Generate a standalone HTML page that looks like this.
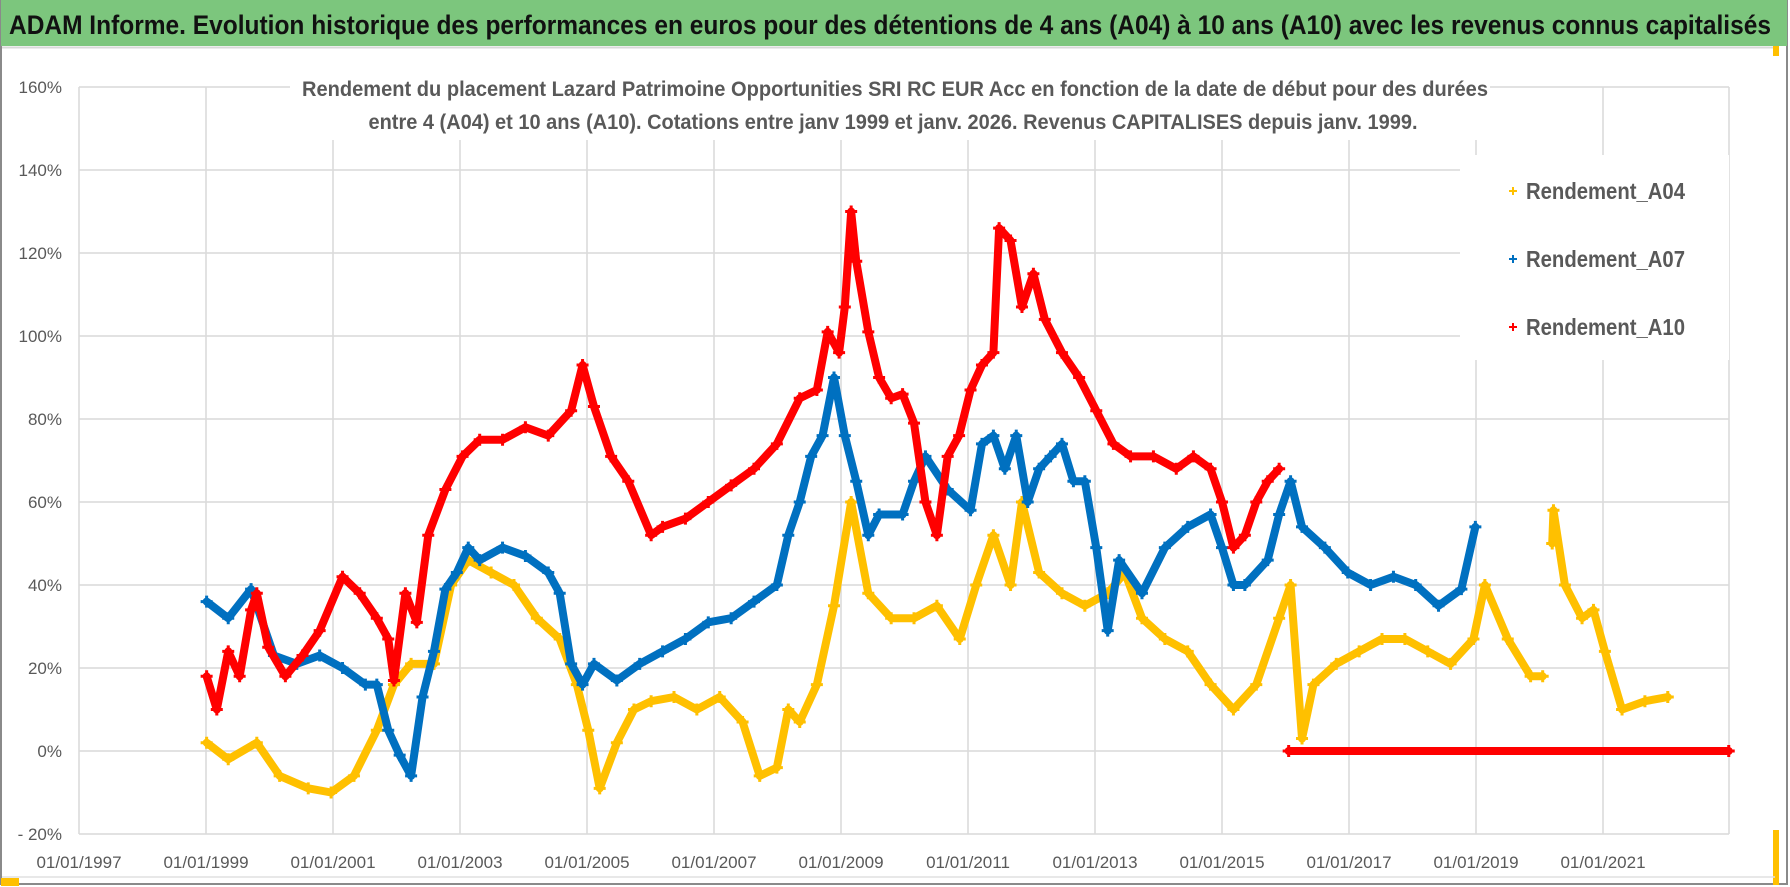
<!DOCTYPE html>
<html><head><meta charset="utf-8"><style>
html,body{margin:0;padding:0;background:#fff}
svg{display:block;font-family:"Liberation Sans",sans-serif}
</style></head><body>
<svg id="chart" width="1790" height="887" viewBox="0 0 1790 887" xmlns="http://www.w3.org/2000/svg">
<rect x="0" y="0" width="1790" height="887" fill="#ffffff"/>
<rect x="1" y="1" width="1786" height="883" fill="none" stroke="#8a8a8a" stroke-width="2"/>
<rect x="1" y="0" width="1786" height="46" fill="#7cc67d"/>
<line x1="2" y1="47.5" x2="1775" y2="47.5" stroke="#d9d9d9" stroke-width="2"/>
<text x="9" y="34" font-size="27" font-weight="bold" fill="#111" textLength="1762" lengthAdjust="spacingAndGlyphs">ADAM Informe. Evolution historique des performances en euros pour des détentions de 4 ans (A04) à 10 ans (A10) avec les revenus connus capitalisés</text>
<rect x="1" y="878" width="18" height="8" fill="#ffc000"/>
<rect x="1773" y="46" width="6" height="10" fill="#ffc000"/>
<rect x="1773" y="830" width="6" height="55" fill="#ffc000"/>
<line x1="2" y1="877" x2="1775" y2="877" stroke="#e0e0e0" stroke-width="1.5"/>
<g id="grid"></g>
<g id="series"></g>
<rect x="290" y="70" width="1200" height="70" fill="#ffffff"/>
<text x="895" y="96" text-anchor="middle" font-size="21" font-weight="bold" fill="#595959" textLength="1186" lengthAdjust="spacingAndGlyphs">Rendement du placement Lazard Patrimoine Opportunities SRI RC EUR Acc  en fonction de la date de début pour des durées</text>
<text x="893" y="129" text-anchor="middle" font-size="21" font-weight="bold" fill="#595959" textLength="1049" lengthAdjust="spacingAndGlyphs">entre 4 (A04) et 10 ans (A10). Cotations entre janv 1999 et janv. 2026. Revenus CAPITALISES depuis janv. 1999.</text>
<g>
<rect x="1460" y="155" width="269" height="205" fill="#ffffff"/>
<g id="legend"></g>
</g>
</svg>
<script>
const yTicks=[-20,0,20,40,60,80,100,120,140,160];
const yTickLabels=["- 20%","0%","20%","40%","60%","80%","100%","120%","140%","160%"];
const xTicks=[1997,1999,2001,2003,2005,2007,2009,2011,2013,2015,2017,2019,2021];
const xTickLabels=["01/01/1997","01/01/1999","01/01/2001","01/01/2003","01/01/2005","01/01/2007","01/01/2009","01/01/2011","01/01/2013","01/01/2015","01/01/2017","01/01/2019","01/01/2021"];
const seriesNames=["Rendement_A04","Rendement_A07","Rendement_A10"];
const datesA04=[1999.01,1999.35,1999.80,2000.16,2000.61,2000.97,2001.33,2001.69,2001.96,2002.23,2002.59,2002.86,2003.13,2003.49,2003.85,2004.21,2004.57,2004.84,2005.02,2005.20,2005.47,2005.74,2006.01,2006.37,2006.73,2007.09,2007.45,2007.72,2007.99,2008.17,2008.35,2008.62,2008.89,2009.16,2009.43,2009.79,2010.15,2010.51,2010.87,2011.13,2011.40,2011.67,2011.85,2012.12,2012.48,2012.84,2013.20,2013.47,2013.74,2014.10,2014.46,2014.82,2015.18,2015.54,2015.90,2016.08,2016.26,2016.44,2016.80,2017.16,2017.52,2017.88,2018.24,2018.60,2018.96,2019.14,2019.50,2019.86,2020.05,null,2020.20,2020.22,2020.40,2020.67,2020.85,2021.03,2021.30,2021.66,2022.02];
const valuesA04=[2,-2,2,-6,-9,-10,-6,5,16,21,21,40,46,43,40,32,27,16,5,-9,2,10,12,13,10,13,7,-6,-4,10,7,16,35,60,38,32,32,35,27,40,52,40,60,43,38,35,38,43,32,27,24,16,10,16,32,40,3,16,21,24,27,27,24,21,27,40,27,18,18,null,50,58,40,32,34,24,10,12,13];
const datesA07=[1999.01,1999.35,1999.71,2000.07,2000.43,2000.79,2001.15,2001.51,2001.69,2001.87,2002.05,2002.23,2002.41,2002.59,2002.77,2002.95,2003.13,2003.31,2003.67,2004.03,2004.39,2004.57,2004.75,2004.93,2005.11,2005.47,2005.83,2006.19,2006.55,2006.91,2007.27,2007.63,2007.99,2008.17,2008.35,2008.53,2008.71,2008.89,2009.06,2009.24,2009.43,2009.60,2009.97,2010.15,2010.33,2010.68,2011.04,2011.22,2011.40,2011.58,2011.76,2011.94,2012.12,2012.30,2012.48,2012.66,2012.84,2013.02,2013.20,2013.38,2013.74,2014.10,2014.46,2014.82,2015.00,2015.18,2015.36,2015.72,2015.90,2016.08,2016.26,2016.62,2016.98,2017.34,2017.70,2018.05,2018.41,2018.77,2018.99];
const valuesA07=[36,32,39,23,21,23,20,16,16,5,-1,-6,13,24,39,43,49,46,49,47,43,38,21,16,21,17,21,24,27,31,32,36,40,52,60,71,76,90,76,65,52,57,57,65,71,63,58,74,76,68,76,60,68,71,74,65,65,49,29,46,38,49,54,57,49,40,40,46,57,65,54,49,43,40,42,40,35,39,54];
const datesA10=[1999.01,1999.17,1999.35,1999.53,1999.71,1999.80,1999.98,2000.25,2000.52,2000.79,2001.15,2001.42,2001.69,2001.87,2001.96,2002.14,2002.32,2002.50,2002.77,2003.04,2003.31,2003.67,2004.03,2004.39,2004.75,2004.93,2005.11,2005.38,2005.65,2006.01,2006.19,2006.55,2006.91,2007.27,2007.63,2007.99,2008.35,2008.62,2008.79,2008.97,2009.06,2009.16,2009.24,2009.43,2009.60,2009.79,2009.97,2010.15,2010.33,2010.51,2010.68,2010.86,2011.04,2011.22,2011.40,2011.49,2011.67,2011.85,2012.03,2012.21,2012.48,2012.75,2013.02,2013.29,2013.56,2013.92,2014.28,2014.55,2014.82,2015.00,2015.18,2015.36,2015.54,2015.72,2015.90,null,2016.05,2022.98];
const valuesA10=[18,10,24,18,34,38,25,18,23,29,42,38,32,27,17,38,31,52,63,71,75,75,78,76,82,93,83,71,65,52,54,56,60,64,68,74,85,87,101,96,107,130,118,101,90,85,86,79,60,52,71,76,87,93,96,126,123,107,115,104,96,90,82,74,71,71,68,71,68,60,49,52,60,65,68,null,0,0];
const colors=["#ffc000","#0070c0","#ff0000"];

const X0=79, PX_PER_YEAR=63.5, Y0=751, PX_PER_PCT=4.15, PLOT_R=1729;
function xs(d){return X0+(d-1997)*PX_PER_YEAR;}
function ys(v){return Y0-v*PX_PER_PCT;}
const NS="http://www.w3.org/2000/svg";
function mk(tag,attrs,parent){const e=document.createElementNS(NS,tag);for(const k in attrs)e.setAttribute(k,attrs[k]);parent.appendChild(e);return e;}
const grid=document.getElementById('grid');
const yTop=ys(160), yBot=ys(-20);
yTicks.forEach((t,i)=>{
  const l=mk('line',{x1:X0,x2:PLOT_R,y1:ys(t),y2:ys(t),stroke:'#d9d9d9','stroke-width':1.5},grid);
  
  
  const tx=mk('text',{x:62,y:ys(t)+6,'text-anchor':'end','font-size':17,fill:'#595959'},grid);
  tx.textContent=yTickLabels[i];
  
  
});
xTicks.forEach((t,i)=>{
  const l=mk('line',{x1:xs(t),x2:xs(t),y1:yTop,y2:yBot,stroke:'#d9d9d9','stroke-width':1.5},grid);
  
  
  const tx=mk('text',{x:xs(t),y:868,'text-anchor':'middle','font-size':17,fill:'#595959'},grid);
  tx.textContent=xTickLabels[i];
  
  
});
mk('line',{x1:PLOT_R,x2:PLOT_R,y1:yTop,y2:yBot,stroke:'#d9d9d9','stroke-width':1.5},grid);

const sg=document.getElementById('series');
const allDates=[datesA04,datesA07,datesA10], allVals=[valuesA04,valuesA07,valuesA10];
allDates.forEach((ds,si)=>{
  const g=mk('g',{},sg);
  
  
  let segs=[[]];
  ds.forEach((d,i)=>{const v=allVals[si][i]; if(d===null||v===null){segs.push([]);}else segs[segs.length-1].push([xs(d),ys(v)]);});
  segs.forEach(s=>{
    if(s.length>1){
      const p=mk('polyline',{points:s.map(q=>q.join(',')).join(' '),fill:'none',stroke:colors[si],'stroke-width':8,'stroke-linejoin':'round','stroke-linecap':'round'},g);
      
      
    }
    s.forEach(q=>{
      const m=mk('path',{d:`M${q[0]-6},${q[1]}h12M${q[0]},${q[1]-6}v12`,stroke:colors[si],'stroke-width':3},g);
      
      
    });
  });
});

const lg=document.getElementById('legend');
seriesNames.forEach((n,i)=>{
  const y=191+i*68;
  const m=mk('path',{d:`M${1509},${y}h8M${1513},${y-4}v8`,stroke:colors[i],'stroke-width':2},lg);
  
  
  const t=mk('text',{x:1526,y:y+8,'font-size':23,'font-weight':600,fill:'#595959',textLength:159,lengthAdjust:'spacingAndGlyphs'},lg);
  t.textContent=n;
  
  
});
</script>
</body></html>
